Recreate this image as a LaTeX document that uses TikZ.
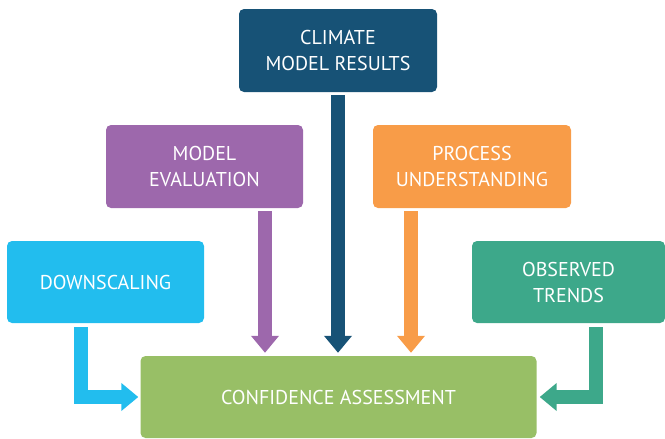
\documentclass[tikz,border=0pt]{standalone}
\usepackage{fontspec}
\setmainfont{PT Sans}
\usetikzlibrary{arrows.meta}
\definecolor{cClimate}{HTML}{175276}
\definecolor{cEval}{HTML}{9D68AC}
\definecolor{cProcess}{HTML}{F89C48}
\definecolor{cDown}{HTML}{22BDEE}
\definecolor{cObs}{HTML}{3DA88A}
\definecolor{cConf}{HTML}{98BF66}
\begin{document}
\begin{tikzpicture}[x=1pt,y=-1pt,
  box/.style={rounded corners=5pt, inner sep=0pt, text=white,
    font=\fontsize{20}{26}\selectfont, align=center},
  flow/.style={line width=14pt, -{Triangle[width=27pt,length=17pt]}}]
\useasboundingbox (0,0) rectangle (665,439);
\node[box, fill=cClimate, minimum width=198pt, minimum height=83pt] (climate) at (338,50.5) {CLIMATE\\MODEL RESULTS};
\node[box, fill=cEval, minimum width=197pt, minimum height=83pt] (eval) at (204.5,166.5) {MODEL\\EVALUATION};
\node[box, fill=cProcess, minimum width=198pt, minimum height=83pt] (process) at (472,166.5) {PROCESS\\UNDERSTANDING};
\node[box, fill=cDown, minimum width=197pt, minimum height=82pt] (down) at (105.5,282) {DOWNSCALING};
\node[box, fill=cObs, minimum width=193pt, minimum height=82pt] (obs) at (568.5,282) {OBSERVED\\TRENDS};
\node[box, fill=cConf, minimum width=396pt, minimum height=82pt] (conf) at (338.5,397) {CONFIDENCE ASSESSMENT};
\draw[flow, cClimate, shorten <=3pt, shorten >=3pt] (climate.south) -- (climate.south |- conf.north);
\draw[flow, cEval, shorten <=3pt, shorten >=3pt] ([xshift=60.5pt]eval.south) -- ([xshift=60.5pt]eval.south |- conf.north);
\draw[flow, cProcess, shorten <=3pt, shorten >=3pt] ([xshift=-61pt]process.south) -- ([xshift=-61pt]process.south |- conf.north);
\draw[flow, cDown, shorten <=4pt, shorten >=2pt] ([xshift=-24.5pt]down.south) |- (conf.west);
\draw[flow, cObs, shorten <=4pt, shorten >=3pt] ([xshift=27.5pt]obs.south) |- (conf.east);
\end{tikzpicture}
\end{document}
